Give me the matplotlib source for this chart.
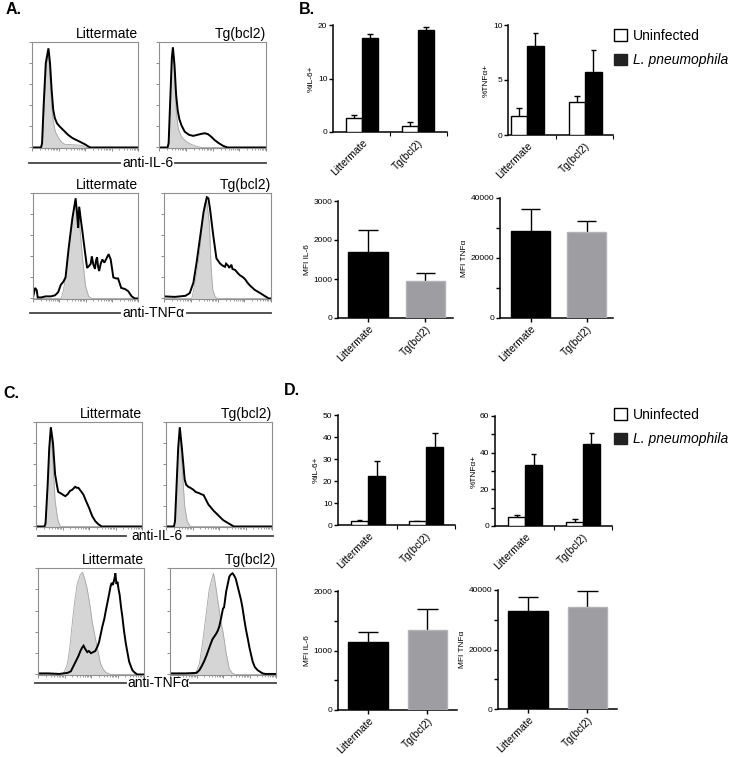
import matplotlib
matplotlib.use("Agg")
import matplotlib.pyplot as plt
from matplotlib.lines import Line2D
from matplotlib.patches import Patch
import numpy as np

plt.rcParams['font.family'] = ['Liberation Sans', 'DejaVu Sans']

W, H = 733, 757

# ---------- flow histograms: (channel 0-100, % of max) ----------
# panel A, anti-IL-6
A_IL6_LIT_ISO = [(0, 0), (9, 0), (10, 5), (11.5, 35), (13.5, 75), (15.5, 90), (17, 65), (18.5, 40), (20, 25),
                 (22, 15), (25, 9), (28, 5), (31, 3), (40, 2.5), (47, 2), (51, 0), (100, 0)]
A_IL6_LIT_STAIN = [(0, 0), (8.5, 0), (9.5, 4), (11, 40), (13, 80), (15.5, 94), (17, 80), (18.5, 55), (20, 36),
                   (21.5, 28), (23.5, 23), (26, 20), (28, 18), (31, 15), (34, 12), (38, 9), (42, 7), (46, 5),
                   (50, 3), (53, 1), (55, 0), (100, 0)]
A_IL6_TG_ISO = [(0, 0), (8, 0), (9.5, 10), (11, 50), (12.5, 85), (13, 91), (14.5, 70), (16, 35), (18, 18),
                (21, 10), (25, 6), (30, 3), (35, 1), (40, 0), (100, 0)]
A_IL6_TG_STAIN = [(0, 0), (8, 0), (9, 4), (10.5, 45), (12, 85), (13, 95), (14.5, 78), (16, 50), (17.5, 35),
                  (19, 27), (21, 21), (24, 15), (28, 12), (32, 11), (36, 12), (40, 13), (43, 13.5), (46, 12.5),
                  (49, 10), (52, 7), (56, 4), (60, 1.5), (64, 0), (100, 0)]
# panel A, anti-TNFa
A_TNF_LIT_ISO = [(0, 0), (27, 0), (29, 8), (31, 20), (34, 45), (37.5, 75), (40.6, 92), (44, 75), (47, 40),
                 (50, 12), (53, 2), (56, 0), (100, 0)]
A_TNF_LIT_STAIN = [(0, 1), (2, 10), (3.5, 8), (4.5, 1), (8, 1), (12, 2), (17, 2), (21, 3), (24, 6), (26.5, 13),
                   (29, 16), (31, 20), (34, 48), (37.5, 76), (40.6, 95), (42, 80), (43, 67), (44, 87),
                   (45.5, 75), (47, 64), (49, 48), (51.5, 29), (53.5, 31), (55, 33), (56, 40), (57.5, 32),
                   (59, 28), (60, 36), (61, 39), (62, 30), (63, 26), (64.5, 33), (66, 37), (68, 34), (70, 38),
                   (72, 42), (74, 37), (76.5, 20), (79, 19), (81, 19), (84, 10), (87.5, 9), (90.6, 7),
                   (94, 2), (97, 0), (100, 0)]
A_TNF_TG_ISO = [(0, 0), (26, 0), (29, 15), (31.5, 30), (34, 50), (37.8, 90), (40, 92), (42.5, 70), (44, 30),
                (45.6, 8), (48, 1), (50, 0), (100, 0)]
A_TNF_TG_STAIN = [(0, 2), (10, 1.5), (20, 2.5), (24, 5), (27.5, 15), (30.6, 35), (34, 60), (37, 82), (40, 96),
                  (41.5, 95), (43, 85), (46, 60), (49, 38), (52.5, 33), (55, 31), (57, 30), (58, 33), (60, 31),
                  (61, 29), (63, 32), (64, 28), (66.5, 27), (69, 24), (71, 22), (74, 20), (76, 18), (78, 15),
                  (80.6, 12), (85, 8), (90, 5), (94.7, 2), (98, 0), (100, 0)]
# panel C, anti-IL-6
C_IL6_LIT_ISO = [(0, 0), (8.5, 0), (10, 15), (11, 40), (12.5, 75), (14, 90), (15, 78), (16, 60), (18, 25),
                 (20, 10), (21, 5), (23, 0), (100, 0)]
C_IL6_LIT_STAIN = [(0, 0), (8, 0), (9, 3), (11, 40), (12.5, 75), (14, 95), (16, 80), (18, 50), (20, 38),
                   (21, 33), (23, 32), (24.5, 31), (26, 30), (27.7, 29), (30, 31), (32, 34), (34, 35), (37, 38),
                   (38.5, 37), (40, 37), (43, 33), (45, 30), (46.5, 26), (50, 18), (53, 10), (56, 5), (59, 2),
                   (62, 0), (100, 0)]
C_IL6_TG_ISO = [(0, 0), (8, 0), (9, 10), (10, 40), (11.5, 75), (13, 90), (15, 60), (17.6, 20), (20, 5),
                (23, 0), (100, 0)]
C_IL6_TG_STAIN = [(0, 0), (7.5, 0), (8.5, 5), (10, 40), (11.5, 75), (13, 95), (15, 75), (17.6, 45), (19, 40),
                  (21, 38), (23, 37), (26, 35), (28, 33), (31, 32), (33, 31), (35.5, 30), (38, 25), (40, 21),
                  (45, 15), (50, 10), (54, 6), (59, 3), (64, 0), (100, 0)]
# panel C, anti-TNFa
C_TNF_LIT_ISO = [(0, 0), (23, 0), (25, 3), (27.7, 10), (30, 25), (32, 45), (34.5, 68), (37, 85), (40, 94),
                 (42, 96), (44, 90), (46.5, 80), (49, 65), (51, 50), (53.5, 37), (56, 25), (59, 10),
                 (61.5, 5), (64, 2), (68.5, 0), (100, 0)]
C_TNF_LIT_STAIN = [(0, 1), (10, 1), (20, 0.5), (28, 1.5), (31, 3), (33, 7), (35.5, 12), (38, 17), (40, 22),
                   (41.5, 25), (43, 27), (44.5, 24), (46.5, 21), (48, 22), (50, 20), (52, 21), (54, 22),
                   (56, 26), (57.5, 30), (59, 37), (60.7, 45), (62.5, 52), (64, 60), (66, 70), (67, 75),
                   (68.5, 83), (69.5, 86), (70.5, 84), (71.7, 88), (72.5, 92), (73, 95), (74, 85), (75, 87),
                   (76, 80), (77, 75), (78.5, 62), (79.5, 55), (81, 42), (82.7, 30), (84.5, 20), (86, 12),
                   (89, 4), (91.5, 1.5), (93.7, 0), (100, 0)]
C_TNF_TG_ISO = [(0, 0), (23, 0), (25, 3), (27.7, 10), (30, 25), (32, 40), (34.5, 60), (37, 80), (39, 88),
                (41, 95), (42, 90), (43.6, 80), (45, 70), (46.5, 60), (48, 50), (50, 40), (53, 20), (56, 5),
                (59, 1), (62, 0), (100, 0)]
C_TNF_TG_STAIN = [(0, 1), (15, 1), (25, 1.5), (27.7, 4), (30, 8), (32, 12), (34.5, 18), (37, 25), (40, 33),
                  (43.4, 38), (45, 41), (46.5, 45), (48, 52), (50, 62), (51, 63), (53, 78), (54.5, 85),
                  (56, 92), (57.5, 94), (59, 95), (60.5, 93), (62, 90), (63.5, 84), (65, 78), (66, 74),
                  (67, 70), (68.5, 62), (70, 52), (71.7, 42), (73.5, 33), (75, 25), (78, 12), (80, 7),
                  (82.7, 4), (87.4, 1), (90, 0.5), (100, 0.5)]

# ---------- bar data ----------
groups = ['Littermate', 'Tg(bcl2)']
# B
b_il6_uninf, b_il6_uninf_err = [2.6, 1.2], [0.6, 0.7]
b_il6_inf, b_il6_inf_err = [17.6, 19.1], [0.8, 0.5]
b_tnf_uninf, b_tnf_uninf_err = [1.75, 3.0], [0.7, 0.55]
b_tnf_inf, b_tnf_inf_err = [8.1, 5.75], [1.15, 1.95]
b_mfi_il6, b_mfi_il6_err = [1690, 950], [565, 205]
b_mfi_tnf, b_mfi_tnf_err = [29000, 28700], [7300, 3600]
# D
d_il6_uninf, d_il6_uninf_err = [2.0, 1.6], [0.3, 0.2]
d_il6_inf, d_il6_inf_err = [22.3, 35.6], [6.9, 6.1]
d_tnf_uninf, d_tnf_uninf_err = [5.0, 2.2], [1.2, 1.4]
d_tnf_inf, d_tnf_inf_err = [33.5, 44.9], [5.6, 5.8]
d_mfi_il6, d_mfi_il6_err = [1148, 1345], [157, 347]
d_mfi_tnf, d_mfi_tnf_err = [33050, 34180], [4700, 5590]


fig = plt.figure(figsize=(W / 100, H / 100), dpi=100)


def px_axes(x0, x1, ytop, ybot):
    return fig.add_axes([x0 / W, 1 - ybot / H, (x1 - x0) / W, (ybot - ytop) / H])


def histo(box, iso, stain, title):
    ax = px_axes(*box)
    xs, ys = zip(*iso)
    ax.fill_between(xs, ys, color='#d5d5d5', lw=0)
    ax.plot(xs, ys, color='#a5a5a5', lw=0.6)
    xs, ys = zip(*stain)
    ax.plot(xs, ys, color='black', lw=1.4, solid_joinstyle='miter')
    ax.set_xlim(0, 100)
    ax.set_ylim(-0.5, 100)
    for s in ax.spines.values():
        s.set_color('#8f8f8f')
        s.set_linewidth(0.8)
    ax.set_yticks(np.linspace(0, 100, 6))
    ax.set_yticklabels([])
    dec = [25 * d for d in range(4)]
    ax.set_xticks(dec + [100])
    ax.set_xticks([d + 25 * np.log10(k) for d in dec for k in range(2, 10)], minor=True)
    ax.set_xticklabels([])
    ax.tick_params(length=2, width=0.6, color='#777777', pad=1)
    ax.tick_params(which='minor', length=1.2, width=0.5, color='#777777')
    ax.text(1, 1.01, title, transform=ax.transAxes, ha='right', va='bottom', fontsize=10)
    return ax


def marker_line(x0, x1, x2, x3, y, label):
    for a, b in ((x0, x1), (x2, x3)):
        fig.add_artist(Line2D([a / W, b / W], [1 - y / H] * 2, color='#444444', lw=1.3))
    fig.text((x1 + x2) / 2 / W, 1 - y / H, label, ha='center', va='center', fontsize=10)


def style_bar_axis(ax, xlim, ymax, yticks, yminor, ylabel, grouped):
    ax.set_xlim(*xlim)
    ax.set_ylim(0, ymax)
    ax.spines['top'].set_visible(False)
    ax.spines['right'].set_visible(False)
    for s in ('left', 'bottom'):
        ax.spines[s].set_linewidth(1.1)
    ax.set_yticks(yticks)
    ax.set_yticks(yminor, minor=True)
    ax.tick_params(axis='y', which='both', length=3, width=1, pad=1, labelsize=6)
    ax.set_xticks([1, 2])
    ax.set_xticklabels(groups, rotation=45, ha='right', va='top', rotation_mode='anchor', fontsize=7.5)
    if grouped:
        ax.set_xticks([1.5, xlim[1]], minor=True)
        ax.tick_params(axis='x', which='major', length=0, pad=4)
        ax.tick_params(axis='x', which='minor', length=3, width=0.8)
    else:
        ax.tick_params(axis='x', which='major', length=3, width=1, pad=1)
    ax.set_ylabel(ylabel, fontsize=6, labelpad=2)


def up_err(ax, x, y, e, half):
    for xi, yi, ei in zip(x, y, e):
        ax.plot([xi, xi], [yi, yi + ei], color='black', lw=1, solid_capstyle='butt')
        ax.plot([xi - half, xi + half], [yi + ei] * 2, color='black', lw=1, solid_capstyle='butt')


def grouped_bars(box, uninf, uninf_err, inf, inf_err, ymax, yticks, yminor, ylabel, xlim=(0.48, 2.5), w=0.29):
    ax = px_axes(*box)
    pos = np.array([1.0, 2.0])
    up_err(ax, pos - w / 2, uninf, uninf_err, 0.05)
    up_err(ax, pos + w / 2, inf, inf_err, 0.05)
    ax.bar(pos - w / 2, uninf, w, color='white', edgecolor='black', lw=1, zorder=3)
    ax.bar(pos + w / 2, inf, w, color='black', edgecolor='black', lw=1, zorder=3)
    style_bar_axis(ax, xlim, ymax, yticks, yminor, ylabel, True)
    return ax


def single_bars(box, vals, errs, ymax, yticks, yminor, ylabel, xlim=(0.48, 2.48), w=0.69):
    ax = px_axes(*box)
    pos = np.array([1.0, 2.0])
    up_err(ax, pos, vals, errs, 0.17)
    ax.bar(pos, vals, w, color=['black', '#9d9da2'], edgecolor=['black', '#b3b3b6'], lw=1, zorder=3)
    style_bar_axis(ax, xlim, ymax, yticks, yminor, ylabel, False)
    return ax


# ---------- panel A ----------
histo((32, 138, 42, 148), A_IL6_LIT_ISO, A_IL6_LIT_STAIN, 'Littermate')
histo((159, 266, 42, 148), A_IL6_TG_ISO, A_IL6_TG_STAIN, 'Tg(bcl2)')
marker_line(29, 120, 175, 266, 163, 'anti-IL-6')
histo((33, 138, 193, 299), A_TNF_LIT_ISO, A_TNF_LIT_STAIN, 'Littermate')
histo((164, 271, 193, 299), A_TNF_TG_ISO, A_TNF_TG_STAIN, 'Tg(bcl2)')
marker_line(30, 120, 187, 271, 313, 'anti-TNF\u03b1')

# ---------- panel C ----------
histo((36, 142, 422, 527), C_IL6_LIT_ISO, C_IL6_LIT_STAIN, 'Littermate')
histo((166, 272, 422, 527), C_IL6_TG_ISO, C_IL6_TG_STAIN, 'Tg(bcl2)')
marker_line(38, 126, 187, 273, 536, 'anti-IL-6')
histo((38, 144, 568, 675), C_TNF_LIT_ISO, C_TNF_LIT_STAIN, 'Littermate')
histo((170, 276, 568, 675), C_TNF_TG_ISO, C_TNF_TG_STAIN, 'Tg(bcl2)')
marker_line(35, 126, 190, 276, 683, 'anti-TNF\u03b1')

# ---------- panel B ----------
grouped_bars((333, 447, 25, 132), b_il6_uninf, b_il6_uninf_err, b_il6_inf, b_il6_inf_err,
             20, [0, 10, 20], [], '%IL-6+', xlim=(0.48, 2.52))
grouped_bars((508, 613, 25, 135), b_tnf_uninf, b_tnf_uninf_err, b_tnf_inf, b_tnf_inf_err,
             10, [0, 5, 10], [], '%TNF\u03b1+', xlim=(0.67, 2.48), w=0.285)
single_bars((338, 453, 201, 318), b_mfi_il6, b_mfi_il6_err, 3000, [0, 1000, 2000, 3000], [], 'MFI IL-6')
single_bars((500, 613, 198, 318), b_mfi_tnf, b_mfi_tnf_err, 40000, [0, 20000, 40000], [10000, 30000],
            'MFI TNF\u03b1', xlim=(0.455, 2.47))

# ---------- panel D ----------
grouped_bars((338, 455, 415, 525), d_il6_uninf, d_il6_uninf_err, d_il6_inf, d_il6_inf_err,
             50, [0, 10, 20, 30, 40, 50], [], '%IL-6+', w=0.30)
grouped_bars((495, 612, 416, 526), d_tnf_uninf, d_tnf_uninf_err, d_tnf_inf, d_tnf_inf_err,
             60, [0, 20, 40, 60], [10, 30, 50], '%TNF\u03b1+')
single_bars((338, 457, 591, 710), d_mfi_il6, d_mfi_il6_err, 2000, [0, 1000, 2000], [500, 1500], 'MFI IL-6',
            xlim=(0.496, 2.496), w=0.67)
single_bars((498, 617, 590, 709), d_mfi_tnf, d_mfi_tnf_err, 40000, [0, 20000, 40000], [10000, 30000],
            'MFI TNF\u03b1', xlim=(0.496, 2.496), w=0.67)

# ---------- legends ----------
handles = [Patch(facecolor='white', edgecolor='black', lw=1), Patch(facecolor='#222222', edgecolor='#222222')]
for ytop in (29, 408):
    leg = fig.legend(handles, ['Uninfected', 'L. pneumophila'], loc='upper left',
                     bbox_to_anchor=(614 / W, 1 - ytop / H), frameon=False, fontsize=10,
                     handlelength=0.9, handleheight=0.9, handletextpad=0.45, labelspacing=0.75,
                     borderpad=0, borderaxespad=0)
    leg.get_texts()[1].set_style('italic')

# ---------- panel letters ----------
for x, y, s in ((6, 14, 'A.'), (299, 14, 'B.'), (3, 398, 'C.'), (284, 395, 'D.')):
    fig.text(x / W, 1 - y / H, s, fontsize=11.5, fontweight='bold', ha='left', va='baseline')

fig.savefig('out.png', dpi=100)
